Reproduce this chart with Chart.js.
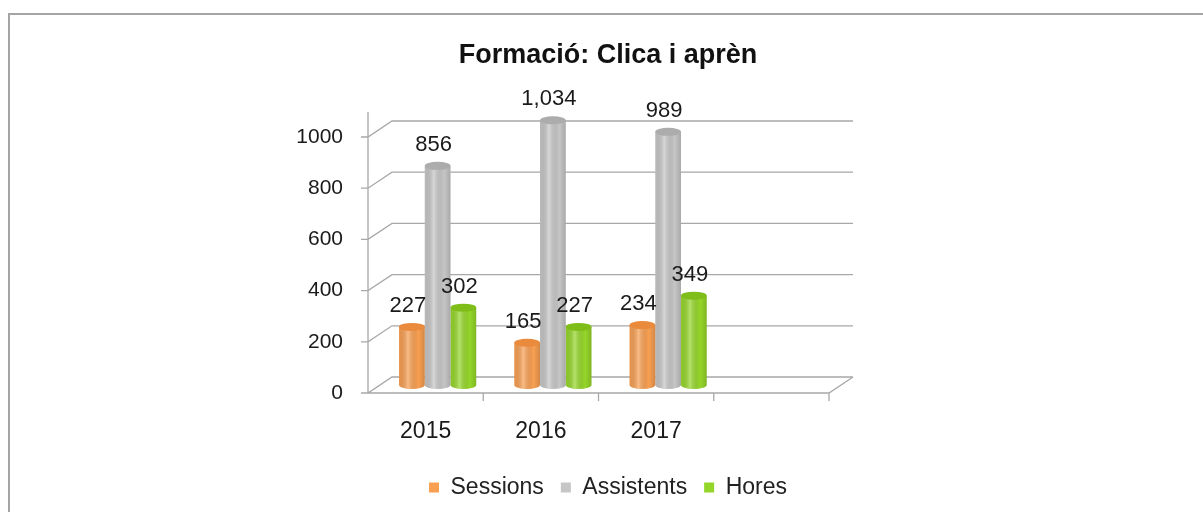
<!DOCTYPE html>
<html>
<head>
<meta charset="utf-8">
<script src="https://cdn.jsdelivr.net/npm/chart.js@4.4.0/dist/chart.umd.min.js"></script>
<style>
html, body { margin: 0; padding: 0; background: #fff; }
#wrap { position: relative; width: 1203px; height: 512px; overflow: hidden; }
#frame { position: absolute; left: 8px; top: 13px; right: -4px; bottom: -4px; border-top: 2px solid #a5a5a5; border-left: 2px solid #a5a5a5; pointer-events: none; }
canvas { position: absolute; left: 0; top: 0; }
</style>
</head>
<body>
<div id="wrap">
	<canvas id="myChart" width="1203" height="512"></canvas>
	<div id="frame"></div>
</div>
<script>
// chart data
var years = ["2015", "2016", "2017", ""];
var sessions = [227, 165, 234, null];
var assistents = [856, 1034, 989, null];
var hores = [302, 227, 349, null];
var yTicks = [0, 200, 400, 600, 800, 1000];

var colors = ['#f89f52', '#c6c6c6', '#95d62a'];
var capColors = ['#ea8a3c', '#acacac', '#7fbd18'];

// depth of the fake 3d box (front/back offset from the bar plane)
var dx = 12, dy = 8;
var gridColor = '#a8a8a8';

var box3d = {
	id: 'box3d',
	beforeDatasetsDraw: function(chart) {
		var c = chart.ctx, a = chart.chartArea;
		var ys = chart.scales.y;
		var y0 = ys.getPixelForValue(0);
		c.save();
		c.strokeStyle = gridColor;
		c.lineWidth = 1.3;
		c.beginPath();
		// back wall gridlines + side wall diagonals + tick marks
		yTicks.forEach(function(v) {
			var y = ys.getPixelForValue(v);
			c.moveTo(a.left - dx - 7, y + dy);
			c.lineTo(a.left - dx, y + dy);
			c.lineTo(a.left + dx, y - dy);
			c.lineTo(a.right + dx, y - dy);
		});
		// left vertical edge
		c.moveTo(a.left - dx, ys.getPixelForValue(yTicks[yTicks.length - 1]) - dy - 9);
		c.lineTo(a.left - dx, y0 + dy);
		// floor front edge and right side
		c.lineTo(a.right - dx, y0 + dy);
		c.lineTo(a.right + dx, y0 - dy);
		// category ticks under floor
		var w = (a.right - a.left) / years.length;
		for (var k = 1; k <= years.length; k++) {
			var x = a.left - dx + k * w;
			c.moveTo(x, y0 + dy);
			c.lineTo(x, y0 + dy + 8);
		}
		c.stroke();
		c.restore();
	},
	afterDatasetsDraw: function(chart) {
		var c = chart.ctx;
		c.save();
		chart.data.datasets.forEach(function(ds, di) {
			var meta = chart.getDatasetMeta(di);
			meta.data.forEach(function(el, i) {
				var v = ds.data[i];
				if (v == null) return;
				var w = el.width, l = el.x - w / 2, r = el.x + w / 2;
				var g = c.createLinearGradient(l, 0, r, 0);
				g.addColorStop(0, 'rgba(0,0,0,0.06)');
				g.addColorStop(0.35, 'rgba(255,255,255,0.30)');
				g.addColorStop(0.75, 'rgba(0,0,0,0.0)');
				g.addColorStop(1, 'rgba(0,0,0,0.15)');
				// round bottom
				c.beginPath();
				c.ellipse(el.x, el.base, w / 2, 4, 0, 0, Math.PI);
				c.fillStyle = colors[di];
				c.fill();
				c.fillStyle = g;
				c.fill();
				c.fillRect(l, el.y, w, el.base - el.y);
				// top cap
				c.beginPath();
				c.ellipse(el.x, el.y, w / 2, 4, 0, 0, Math.PI * 2);
				c.fillStyle = capColors[di];
				c.fill();
				// value label
				c.fillStyle = '#1a1a1a';
				c.font = '22px "Liberation Sans", Arial, sans-serif';
				c.textAlign = 'center';
				c.textBaseline = 'middle';
				c.fillText(v.toLocaleString('en-US'), el.x - 4, el.y - 21);
			});
		});
		c.restore();
	}
};

Chart.defaults.font.family = '"Liberation Sans", Arial, sans-serif';
Chart.defaults.color = '#1a1a1a';

var ctx = document.getElementById('myChart').getContext('2d');
var chart = new Chart(ctx, {
	type: 'bar',
	data: {
		labels: years,
		datasets: [{
			label: 'Sessions',
			data: sessions,
			backgroundColor: colors[0],
			borderWidth: 0,
			clip: false
		}, {
			label: 'Assistents',
			data: assistents,
			backgroundColor: colors[1],
			borderWidth: 0,
			clip: false
		}, {
			label: 'Hores',
			data: hores,
			backgroundColor: colors[2],
			borderWidth: 0,
			clip: false
		}]
	},
	options: {
		responsive: false,
		animation: false,
		events: [],
		layout: {
			padding: { left: 280, right: 267, top: 0, bottom: 3 }
		},
		datasets: {
			bar: { categoryPercentage: 0.67, barPercentage: 1.0 }
		},
		scales: {
			x: {
				grid: { display: false, drawTicks: false },
				border: { display: false },
				ticks: { font: { size: 23 }, padding: 33, labelOffset: -12, autoSkip: false, maxRotation: 0 },
				afterFit: function(s) { s.height = 74; }
			},
			y: {
				min: 0,
				max: 1000,
				grid: { display: false, drawTicks: false },
				border: { display: false },
				ticks: {
					font: { size: 21 }, padding: 37, labelOffset: dy,
					callback: function(v) { return String(v); }
				},
				afterBuildTicks: function(s) {
					s.ticks = yTicks.map(function(v) { return { value: v }; });
				},
				afterFit: function(s) { s.width = 100; }
			},
			// empty right axis, only keeps title and legend centred like the original
			yRight: {
				position: 'right',
				grid: { display: false, drawTicks: false },
				border: { display: false },
				ticks: { display: false },
				afterFit: function(s) { s.width = 95; }
			}
		},
		plugins: {
			title: {
				display: true,
				text: 'Formació: Clica i aprèn',
				font: { size: 27, weight: 'bold' },
				color: '#111',
				padding: { top: 39, bottom: 57.6 }
			},
			legend: {
				position: 'bottom',
				labels: { boxWidth: 10, boxHeight: 10, padding: 17, font: { size: 23 }, color: '#222' }
			},
			tooltip: { enabled: false }
		}
	},
	plugins: [box3d]
});
</script>
</body>
</html>
